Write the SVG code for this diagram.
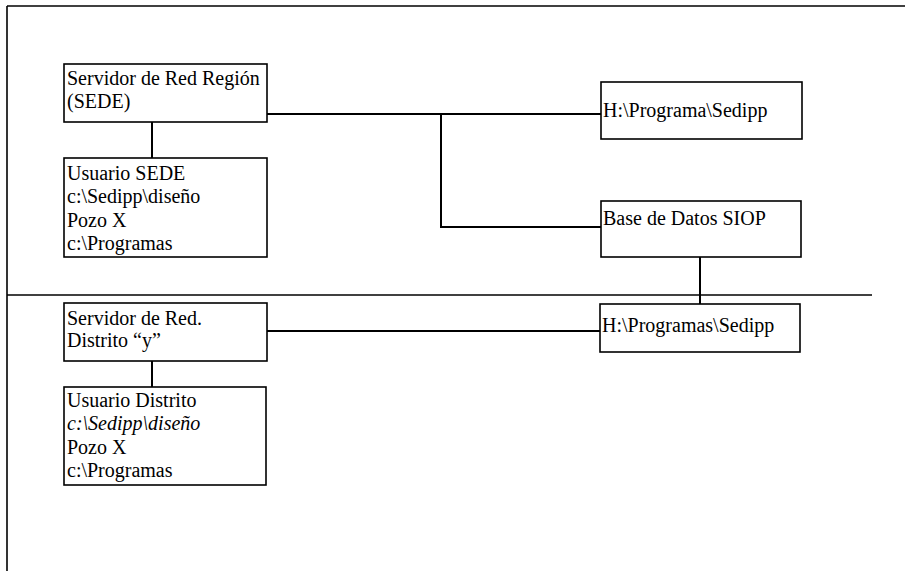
<svg xmlns="http://www.w3.org/2000/svg" width="905" height="571" viewBox="0 0 905 571">
  <style>
    .box { fill: #ffffff; stroke: #000000; stroke-width: 1.6; }
    .frame { fill: none; stroke: #000000; stroke-width: 1.6; }
    .wire { fill: none; stroke: #000000; stroke-width: 2; }
    text { font-family: "Liberation Serif", "Times New Roman", serif; font-size: 20px; fill: #000000; }
    .it { font-style: italic; }
  </style>
  <rect width="905" height="571" fill="#ffffff"/>

  <!-- page frame and region separator -->
  <g id="frame">
    <line class="frame" x1="7" y1="6" x2="905" y2="6"/>
    <line class="frame" x1="7" y1="6" x2="7" y2="571"/>
    <line class="frame" x1="7" y1="295" x2="872" y2="295"/>
  </g>

  <!-- connectors -->
  <g id="connectors">
    <polyline class="wire" points="267,114 601,114"/>
    <polyline class="wire" points="441,114 441,227 601,227"/>
    <line class="wire" x1="152" y1="122" x2="152" y2="158"/>
    <line class="wire" x1="700" y1="257" x2="700" y2="304"/>
    <line class="wire" x1="267" y1="331" x2="600" y2="331"/>
    <line class="wire" x1="152" y1="361" x2="152" y2="387"/>
  </g>

  <g id="servidor-region">
    <rect class="box" x="64" y="64" width="203" height="58"/>
    <text x="67" y="85">Servidor de Red Región</text>
    <text x="67" y="108">(SEDE)</text>
  </g>

  <g id="usuario-sede">
    <rect class="box" x="64" y="158" width="203" height="99"/>
    <text x="67" y="180">Usuario SEDE</text>
    <text x="67" y="203">c:\Sedipp\diseño</text>
    <text x="67" y="227">Pozo X</text>
    <text x="67" y="250">c:\Programas</text>
  </g>

  <g id="programa-sedipp">
    <rect class="box" x="601" y="82" width="201" height="57"/>
    <text x="603" y="117">H:\Programa\Sedipp</text>
  </g>

  <g id="base-datos-siop">
    <rect class="box" x="601" y="201" width="200" height="56"/>
    <text x="603" y="225">Base de Datos SIOP</text>
  </g>

  <g id="servidor-distrito">
    <rect class="box" x="64" y="303" width="203" height="58"/>
    <text x="67" y="325">Servidor de Red.</text>
    <text x="67" y="347">Distrito “y”</text>
  </g>

  <g id="programas-sedipp">
    <rect class="box" x="600" y="304" width="200" height="48"/>
    <text x="602" y="332">H:\Programas\Sedipp</text>
  </g>

  <g id="usuario-distrito">
    <rect class="box" x="64" y="387" width="202" height="98"/>
    <text x="67" y="407">Usuario Distrito</text>
    <text x="67" y="430" class="it">c:\Sedipp\diseño</text>
    <text x="67" y="454">Pozo X</text>
    <text x="67" y="477">c:\Programas</text>
  </g>
</svg>
